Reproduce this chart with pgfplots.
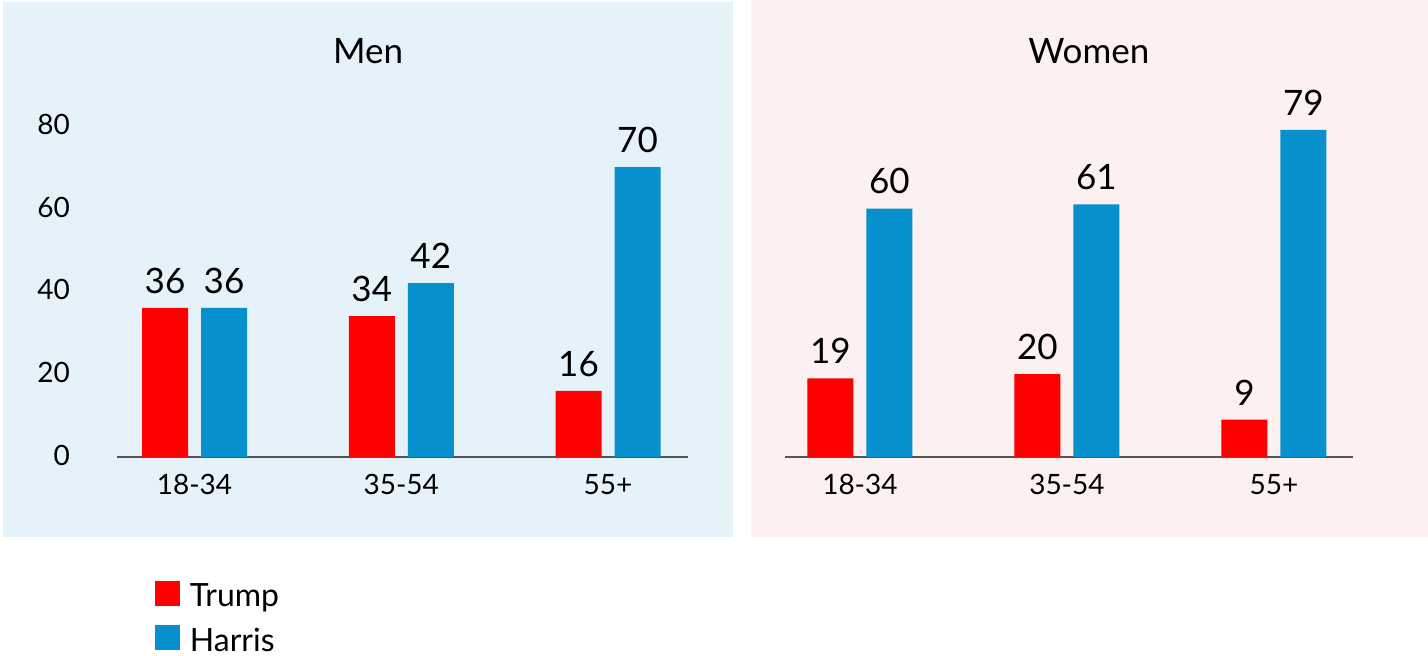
\documentclass[border=0pt]{standalone}
\usepackage{fontspec}
\setmainfont{Lato}
\usepackage{pgfplots}
\pgfplotsset{compat=1.18}
\definecolor{trumpred}{HTML}{FF0000}
\definecolor{harrisblue}{HTML}{0690CD}
\definecolor{menbg}{HTML}{E6F2F9}
\definecolor{womenbg}{HTML}{FDF0F0}
\definecolor{axisgray}{HTML}{555555}
\pgfplotsset{
  panel/.style={
    scale only axis,
    height=165.6pt,
    ymin=0, ymax=80,
    ybar,
    bar width=23pt,
    axis x line*=bottom,
    axis y line*=left,
    y axis line style={draw=none},
    x axis line style={-, draw=axisgray, line width=0.75pt},
    major tick length=0pt,
    xtick={0,1,2},
    xticklabels={18-34,35-54,55+},
    /pgf/number format/assume math mode=true,
    tick label style={font=\fontsize{14}{16}\selectfont, text=black},
    xticklabel style={yshift=-5.3pt},
    yticklabel style={xshift=-20pt, yshift=0.8pt},
    clip=false,
    nodes near coords,
    nodes near coords style={font=\fontsize{17.5}{20}\selectfont, text=black, yshift=3.7pt},
    title style={font=\fontsize{17.5}{20}\selectfont, anchor=base},
  }
}
\begin{document}
\begin{tikzpicture}
\useasboundingbox (0pt,0pt) rectangle (714pt,-328pt);
\fill[menbg] (1.5pt,-1pt) rectangle (366.5pt,-268.5pt);
\fill[womenbg] (375.5pt,0pt) rectangle (714pt,-268.5pt);
\begin{axis}[panel,
  at={(58.5pt,-228.5pt)}, anchor=south west,
  width=285.5pt, xmin=-0.375, xmax=2.387,
  ytick={0,20,40,60,80},
  title={Men}, title style={at={(0.4396,1)}, anchor=base, yshift=25pt},
  legend style={at={(0.0665,-0.3715)}, anchor=north west, draw=none, fill=none,
    inner sep=0pt, outer sep=0pt, row sep=5pt, column sep=3pt,
    font=\fontsize{16}{18}\selectfont, cells={anchor=base west, inner ysep=0pt}},
  legend image code/.code={\fill[#1] (0pt,0.5pt) rectangle (12.5pt,13pt);},
]
\addplot[fill=trumpred, draw=none, bar shift=-14.75pt] coordinates {(0,36) (1,34) (2,16)};
\addlegendentry{Trump}
\addplot[fill=harrisblue, draw=none, bar shift=14.75pt] coordinates {(0,36) (1,42) (2,70)};
\addlegendentry{Harris}
\end{axis}
\begin{axis}[panel,
  at={(392.5pt,-228.5pt)}, anchor=south west,
  width=284pt, xmin=-0.362, xmax=2.382,
  ytick=\empty,
  title={Women}, title style={at={(0.535,1)}, anchor=base, yshift=25pt},
]
\addplot[fill=trumpred, draw=none, bar shift=-14.75pt] coordinates {(0,19) (1,20) (2,9)};
\addplot[fill=harrisblue, draw=none, bar shift=14.75pt] coordinates {(0,60) (1,61) (2,79)};
\end{axis}
\end{tikzpicture}
\end{document}
